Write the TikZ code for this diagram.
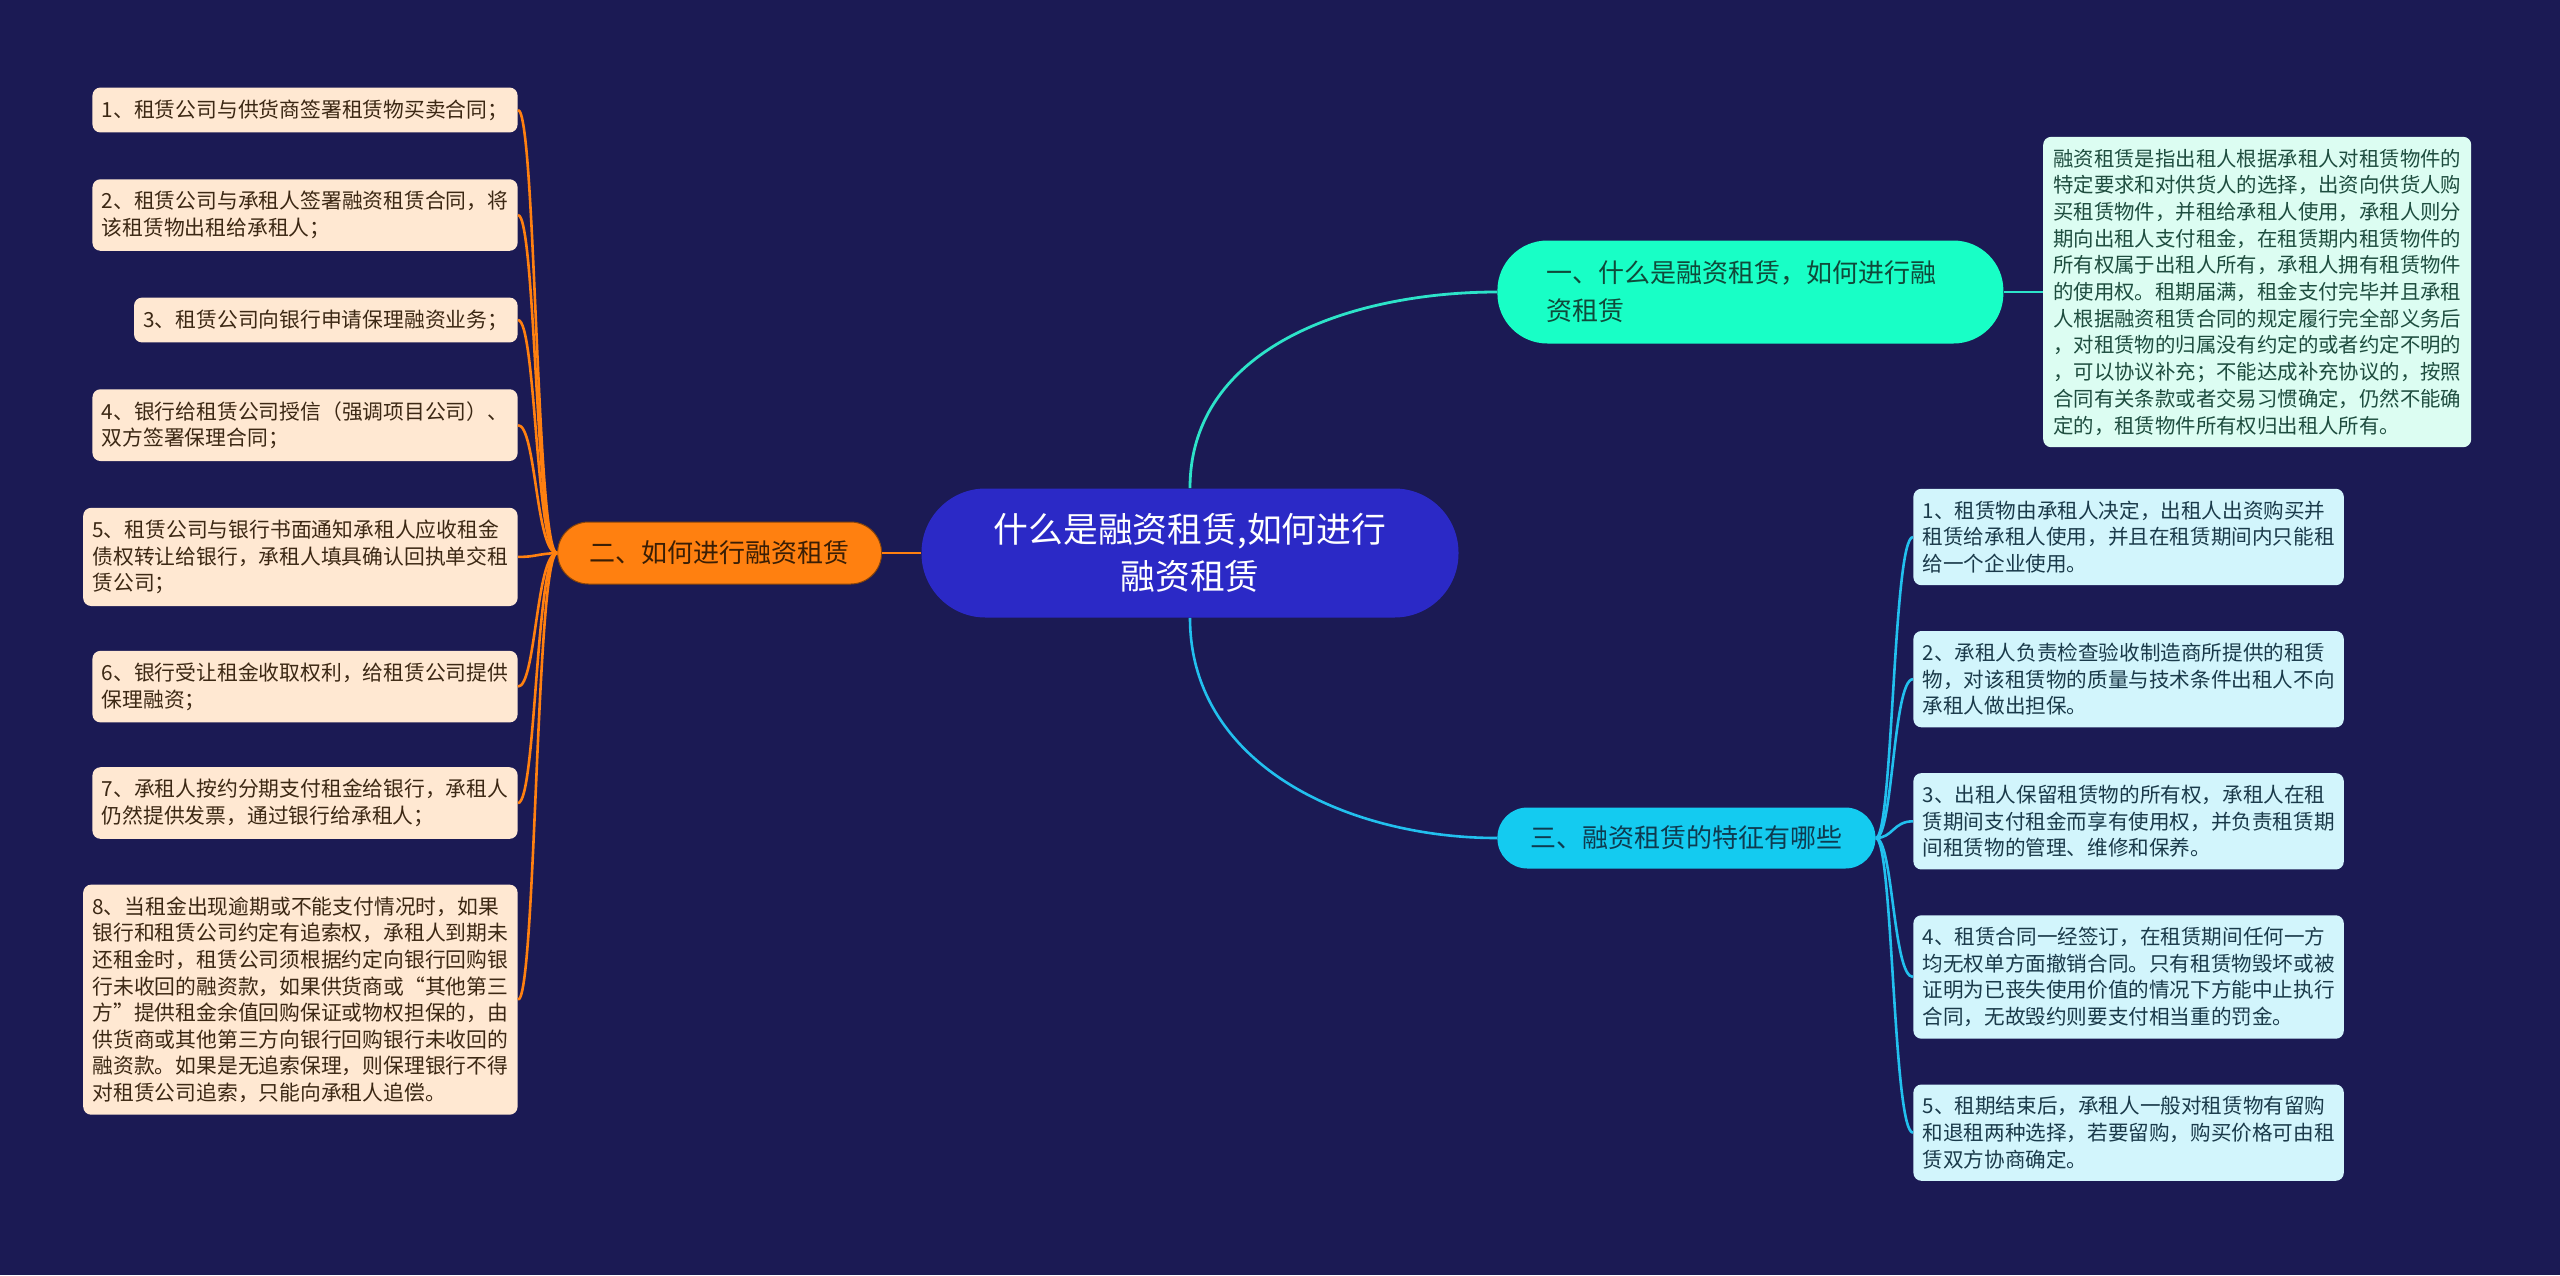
\documentclass[tikz,border=0pt]{standalone}
\usepackage{fontspec}
\setmainfont{Noto Sans CJK SC}
\usepackage{tikz}
\usetikzlibrary{positioning}
\usepackage{xcolor}
\definecolor{bgnavy}{RGB}{27,26,84}
\definecolor{rootblue}{RGB}{43,41,198}
\definecolor{orangebr}{RGB}{255,128,16}
\definecolor{orangeink}{RGB}{58,30,5}
\definecolor{mintbr}{RGB}{24,255,198}
\definecolor{mintline}{RGB}{45,227,201}
\definecolor{mintink}{RGB}{15,74,58}
\definecolor{cyanbr}{RGB}{20,203,240}
\definecolor{cyanline}{RGB}{34,192,238}
\definecolor{cyanink}{RGB}{14,59,80}
\definecolor{peach}{RGB}{255,232,210}
\definecolor{brownink}{RGB}{60,40,20}
\definecolor{mintsoft}{RGB}{220,253,242}
\definecolor{greenink}{RGB}{30,77,63}
\definecolor{icecyan}{RGB}{210,245,252}
\definecolor{slateink}{RGB}{26,58,74}

\begin{document}
\begin{tikzpicture}[x=0.5pt,y=-0.5pt,
  leafl/.style={fill=peach,text=brownink,rounded corners=4pt,align=left,inner xsep=4.6pt,inner ysep=6pt,font=\fontsize{10.4}{13.3}\selectfont},
  leafr/.style={fill=icecyan,text=slateink,rounded corners=4pt,align=left,inner xsep=4.6pt,inner ysep=6pt,font=\fontsize{10.3}{13.3}\selectfont},
  topic/.style={font=\fontsize{13}{19}\selectfont},
  linkor/.style={orangebr,line width=1.3pt},
  linkmint/.style={mintline,line width=1.4pt},
  linkcyan/.style={cyanline,line width=1.3pt}]
  \fill[bgnavy] (0,0) rectangle (2560,1275);

  % root and the three topics
  \node[fill=rootblue,text=white,rounded corners=32pt,minimum width=268.5pt,minimum height=64.5pt,align=center,font=\fontsize{17.4}{23.5}\selectfont] (ctr) at (1190,553) {什么是融资租赁,如何进行\\融资租赁};
  \node[topic,fill=orangebr,draw=orangeink!60!orangebr,line width=0.5pt,text=orangeink,rounded corners=15.5pt,minimum height=31pt,inner xsep=16pt,left=19.5pt of ctr] (how) {二、如何进行融资租赁};
  \node[topic,fill=mintbr,text=mintink,rounded corners=25pt,minimum height=51.5pt,text width=204pt,align=left,inner xsep=24.5pt,anchor=west] (what) at (1497,292) {一、什么是融资租赁，如何进行融\\资租赁};
  \node[topic,fill=cyanbr,text=cyanink,rounded corners=15pt,minimum height=30.5pt,inner xsep=16.5pt,anchor=west] (feat) at (1497,838) {三、融资租赁的特征有哪些};

  % definition
  \node[fill=mintsoft,text=greenink,rounded corners=4pt,align=left,inner xsep=5pt,inner ysep=6pt,font=\fontsize{10.2}{13.35}\selectfont,right=19.5pt of what] (defn) {融资租赁是指出租人根据承租人对租赁物件的\\特定要求和对供货人的选择，出资向供货人购\\买租赁物件，并租给承租人使用，承租人则分\\期向出租人支付租金，在租赁期内租赁物件的\\所有权属于出租人所有，承租人拥有租赁物件\\的使用权。租期届满，租金支付完毕并且承租\\人根据融资租赁合同的规定履行完全部义务后\\，对租赁物的归属没有约定的或者约定不明的\\，可以协议补充；不能达成补充协议的，按照\\合同有关条款或者交易习惯确定，仍然不能确\\定的，租赁物件所有权归出租人所有。};

  % steps on the left
  \node[leafl,anchor=east] (l1) at (518,110) {1、租赁公司与供货商签署租赁物买卖合同；};
  \node[leafl,below=23pt of l1.south east,anchor=north east] (l2) {2、租赁公司与承租人签署融资租赁合同，将\\该租赁物出租给承租人；};
  \node[leafl,below=23pt of l2.south east,anchor=north east] (l3) {3、租赁公司向银行申请保理融资业务；};
  \node[leafl,below=23pt of l3.south east,anchor=north east] (l4) {4、银行给租赁公司授信（强调项目公司）、\\双方签署保理合同；};
  \node[leafl,below=23pt of l4.south east,anchor=north east] (l5) {5、租赁公司与银行书面通知承租人应收租金\\债权转让给银行，承租人填具确认回执单交租\\赁公司；};
  \node[leafl,below=22pt of l5.south east,anchor=north east] (l6) {6、银行受让租金收取权利，给租赁公司提供\\保理融资；};
  \node[leafl,below=22pt of l6.south east,anchor=north east] (l7) {7、承租人按约分期支付租金给银行，承租人\\仍然提供发票，通过银行给承租人；};
  \node[leafl,below=22.5pt of l7.south east,anchor=north east] (l8) {8、当租金出现逾期或不能支付情况时，如果\\银行和租赁公司约定有追索权，承租人到期未\\还租金时，租赁公司须根据约定向银行回购银\\行未收回的融资款，如果供货商或“其他第三\\方”提供租金余值回购保证或物权担保的，由\\供货商或其他第三方向银行回购银行未收回的\\融资款。如果是无追索保理，则保理银行不得\\对租赁公司追索，只能向承租人追偿。};

  % features on the right
  \node[leafr,anchor=west] (r1) at (1913,537) {1、租赁物由承租人决定，出租人出资购买并\\租赁给承租人使用，并且在租赁期间内只能租\\给一个企业使用。};
  \node[leafr,below=22.5pt of r1.south west,anchor=north west] (r2) {2、承租人负责检查验收制造商所提供的租赁\\物，对该租赁物的质量与技术条件出租人不向\\承租人做出担保。};
  \node[leafr,below=22.5pt of r2.south west,anchor=north west] (r3) {3、出租人保留租赁物的所有权，承租人在租\\赁期间支付租金而享有使用权，并负责租赁期\\间租赁物的管理、维修和保养。};
  \node[leafr,below=22.5pt of r3.south west,anchor=north west] (r4) {4、租赁合同一经签订，在租赁期间任何一方\\均无权单方面撤销合同。只有租赁物毁坏或被\\证明为已丧失使用价值的情况下方能中止执行\\合同，无故毁约则要支付相当重的罚金。};
  \node[leafr,below=22.5pt of r4.south west,anchor=north west] (r5) {5、租期结束后，承租人一般对租赁物有留购\\和退租两种选择，若要留购，购买价格可由租\\赁双方协商确定。};

  \coordinate (tl) at (536,554);
  \coordinate (tr) at (1893,838);

  \draw[linkor] (ctr.west) -- (how.east);
  \draw[linkmint] (ctr.north) to[out=90,in=180] (what.west);
  \draw[linkmint] (what.east) -- (defn.west |- what.east);
  \draw[linkcyan] (ctr.south) to[out=-90,in=180] (feat.west);
  \foreach \k in {l1,l2,l3,l4,l5,l6,l7,l8}
    \draw[linkor] (how.west) .. controls (tl) and (tl |- \k.east) .. (\k.east);
  \foreach \k in {r1,r2,r3,r4,r5}
    \draw[linkcyan] (feat.east) .. controls (tr) and (tr |- \k.west) .. (\k.west);
\end{tikzpicture}
\end{document}
